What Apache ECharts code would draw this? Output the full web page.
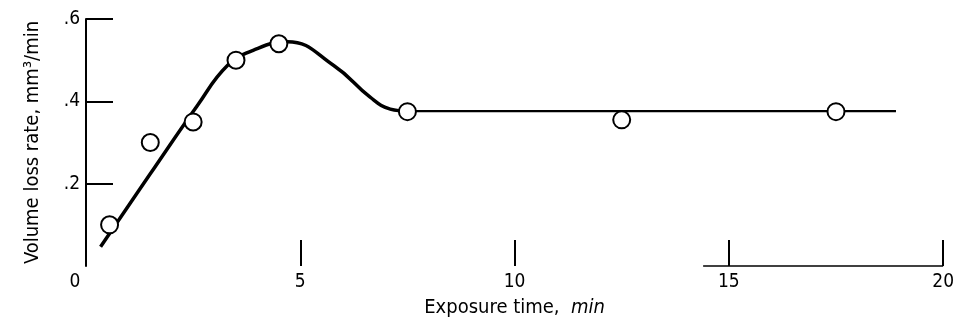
<!DOCTYPE html>
<html>
<head>
<meta charset="utf-8">
<script src="https://cdn.jsdelivr.net/npm/echarts@6/dist/echarts.min.js"></script>
<style>html,body{margin:0;padding:0;background:#fff}#c{width:957px;height:325px}</style>
</head>
<body>
<div id="c"></div>
<script>
// Data
const curveX = [0.34, 1.5, 2.6, 3.3, 3.9, 4.7, 5.78, 6.63, 7.1, 7.52];
const curveY = [0.047, 0.224, 0.39, 0.487, 0.524, 0.545, 0.487, 0.41, 0.381, 0.376];
const flatX = [7.5, 18.9];
const flatY = [0.376, 0.376];
const pointX = [0.55, 1.5, 2.5, 3.5, 4.5, 7.5, 12.5, 17.5];
const pointY = [0.10, 0.30, 0.35, 0.50, 0.54, 0.375, 0.355, 0.375];
const xTicks = [5, 10, 15, 20];
const yTicks = [0.2, 0.4, 0.6];
const xAxisLineFrom = 14.4;

const font = '"DejaVu Sans Condensed", "Liberation Sans Narrow", "Liberation Sans", sans-serif';
const pairs = (xs, ys) => xs.map((x, i) => [x, ys[i]]);

const chart = echarts.init(document.getElementById('c'), null, {renderer: 'canvas'});
chart.setOption({
  animation: false,
  backgroundColor: '#fff',
  grid: {left: 86, right: 13, top: 19, bottom: 59, containLabel: false},
  xAxis: {
    type: 'value', min: 0, max: 20, interval: 5,
    axisLine: {show: false},
    axisTick: {show: true, inside: true, length: 26, customValues: xTicks, lineStyle: {color: '#000', width: 2}},
    splitLine: {show: false},
    axisLabel: {
      margin: 7, color: '#000', fontFamily: font, fontSize: 19,
      formatter: v => v === 0 ? '{z|0}' : String(v),
      rich: {z: {padding: [0, 22, 0, 0], fontFamily: font, fontSize: 19, color: '#000'}}
    },
    name: '{a|Exposure time,  }{b|min}',
    nameLocation: 'middle', nameGap: 32,
    nameTextStyle: {
      rich: {
        a: {fontFamily: font, fontSize: 20, color: '#000'},
        b: {fontFamily: font, fontSize: 20, fontStyle: 'italic', color: '#000'}
      }
    }
  },
  yAxis: {
    type: 'value', min: 0, max: 0.6, interval: 0.2,
    axisLine: {show: true, lineStyle: {color: '#000', width: 2}},
    axisTick: {show: true, inside: true, length: 27, customValues: yTicks, lineStyle: {color: '#000', width: 2}},
    splitLine: {show: false},
    axisLabel: {
      margin: 6, color: '#000', fontFamily: font, fontSize: 19,
      formatter: v => v === 0 ? '' : ('.' + Math.round(v * 10))
    },
    name: 'Volume loss rate, mm³/min',
    nameLocation: 'middle', nameGap: 43, nameRotate: 90,
    nameTextStyle: {fontFamily: font, fontSize: 20, color: '#000'}
  },
  series: [
    {
      type: 'line', data: pairs(curveX, curveY), smooth: 0.45, showSymbol: false,
      lineStyle: {color: '#000', width: 3.5}, z: 2,
      markLine: {
        silent: true, symbol: 'none', label: {show: false},
        lineStyle: {color: '#000', width: 1.5, type: 'solid'},
        data: [[{coord: [xAxisLineFrom, 0]}, {coord: [20, 0]}]]
      }
    },
    {
      type: 'line', data: pairs(flatX, flatY), showSymbol: false,
      lineStyle: {color: '#000', width: 2.2}, z: 2
    },
    {
      type: 'scatter', data: pairs(pointX, pointY), symbol: 'circle', symbolSize: 17,
      itemStyle: {color: '#fff', borderColor: '#000', borderWidth: 2, opacity: 1}, z: 5
    }
  ]
});
</script>
</body>
</html>
